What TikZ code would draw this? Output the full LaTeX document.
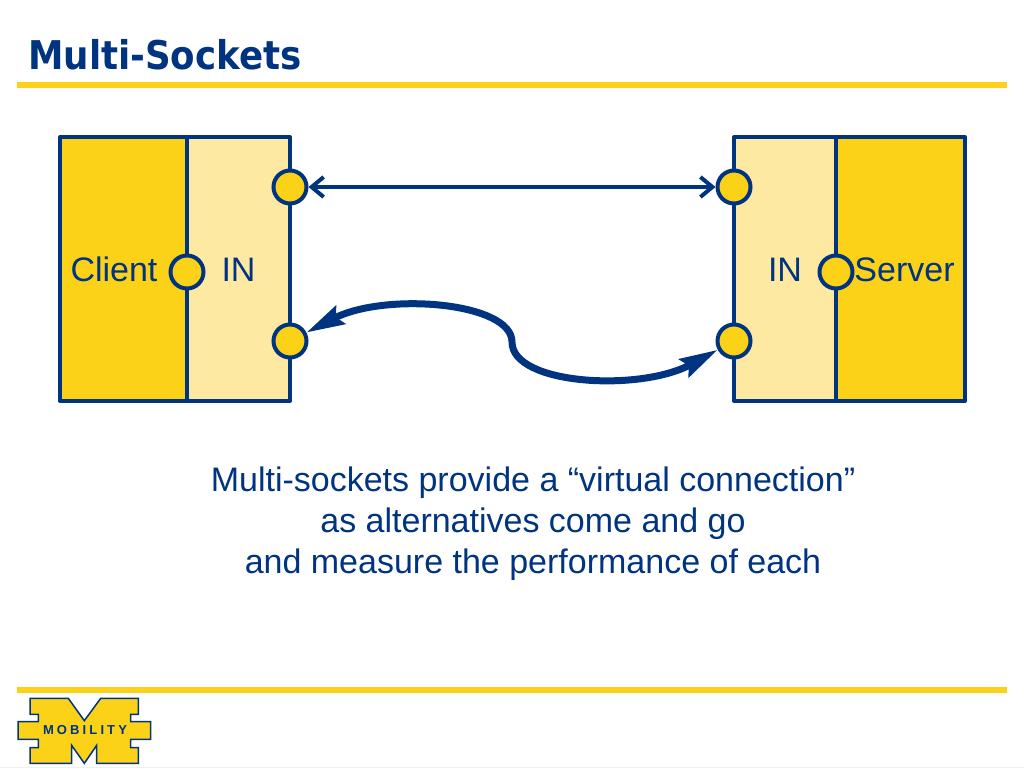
\documentclass[tikz,border=0pt]{standalone}
\usepackage{fontspec}
\setmainfont{Liberation Sans}
\newfontfamily\titlefont[FakeStretch=0.9]{DejaVu Sans}
\usetikzlibrary{arrows.meta}
\definecolor{mblue}{RGB}{0,51,128}
\definecolor{myellow}{RGB}{252,210,24}
\definecolor{mpale}{RGB}{253,233,161}
\tikzset{
  bar/.style={fill=myellow,draw=none,minimum height=6pt,inner sep=0pt},
  endbox/.style={draw=mblue,fill=myellow,line width=4pt,line join=round,minimum height=264pt,inner sep=0pt},
  inbox/.style={draw=mblue,fill=mpale,line width=4pt,line join=round,minimum height=264pt,inner sep=0pt},
  sock/.style={circle,draw=mblue,fill=myellow,line width=4pt,minimum size=33pt,inner sep=0pt},
  lab/.style={text=mblue,font=\fontsize{34}{41}\selectfont,inner sep=0pt}
}
\begin{document}
\begin{tikzpicture}[x=1pt,y=-1pt]
\useasboundingbox (0,0) rectangle (1024,768);
\node [anchor=base west,inner sep=0pt,text=mblue,font=\titlefont\bfseries\fontsize{39.6}{42}\selectfont] (title) at (28,70) {Multi-Sockets};
\node [bar,minimum width=990pt] (topbar) at (512,85) {};
\node [bar,minimum width=990pt] (botbar) at (512,690) {};
\node [endbox,minimum width=127pt] (client) at (123.5,269) {};
\node [inbox,minimum width=103pt] (inl) at (238.5,269) {};
\node [inbox,minimum width=102pt] (inr) at (785,269) {};
\node [endbox,minimum width=129pt] (server) at (900.5,269) {};
\node [sock] (sa) at (290,187) {};
\node [sock] (sb) at (290,341) {};
\node [sock] (sc) at (734,187) {};
\node [sock] (sd) at (734,341) {};
\node [sock] (se) at (187,272) {};
\node [sock] (sf) at (836,272) {};
\node [lab,anchor=base] (lclient) at (114,281) {Client};
\node [lab,anchor=base] (linl) at (238.5,281) {IN};
\node [lab,anchor=base] (linr) at (785,281) {IN};
\node [lab,anchor=base] (lserver) at (904.5,281) {Server};
\draw [mblue,line width=4pt,{Straight Barb[length=12pt,width=20pt]}-{Straight Barb[length=12pt,width=20pt]}] (sa) -- (sc);
\coordinate (mid) at (512,342);
\draw [mblue,line width=7pt,-{Stealth[length=38pt,width=20pt,inset=5pt]}] (mid) .. controls (512,302) and (385,292) .. (sb);
\draw [mblue,line width=7pt,-{Stealth[length=38pt,width=20pt,inset=5pt]}] (mid) .. controls (512,385) and (640,392) .. (sd);
\node [lab,align=center,anchor=base] (body) at (533,573) {Multi-sockets provide a “virtual connection”\\as alternatives come and go\\and measure the performance of each};
\fill [black!6] (0,766.5) rectangle (1024,768);
\begin{scope}[shift={(0,680)},scale=1/3]
\draw [draw=mblue,fill=myellow,line width=1.5pt] (90,55) -- (205,55) -- (253,122) -- (302,55) -- (415,55) -- (415,103) -- (392,103) -- (392,125) -- (452,125) -- (452,178) -- (392,178) -- (392,203) -- (415,203) -- (415,250) -- (290,250) -- (290,196) -- (253,250) -- (215,196) -- (215,250) -- (90,250) -- (90,203) -- (115,203) -- (115,178) -- (54,178) -- (54,125) -- (115,125) -- (115,103) -- (90,103) -- cycle;
\end{scope}
\node [text=mblue,inner sep=0pt,font=\bfseries\fontsize{13}{13}\selectfont\addfontfeature{LetterSpace=24}] (mobility) at (85,730) {MOBILITY};
\end{tikzpicture}
\end{document}
